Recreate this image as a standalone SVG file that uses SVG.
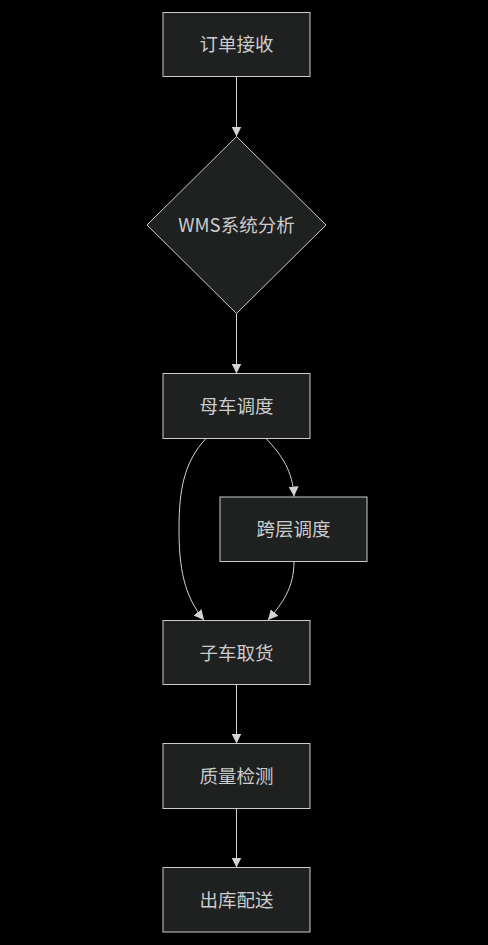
<svg xmlns="http://www.w3.org/2000/svg" width="488" height="945" viewBox="0 0 488 945">
<defs>
<marker id="arrow" viewBox="0 0 10 10" refX="10" refY="5" markerWidth="10" markerHeight="10" markerUnits="userSpaceOnUse" orient="auto">
<path d="M0,0 L10,5 L0,10 z" fill="#d3d3d3"/>
</marker>
</defs>
<style>
.node rect, .node polygon { fill: #1f2020; stroke: #cccccc; stroke-width: 1; }
.node text { fill: #cccccc; font-family: "Noto Sans CJK SC", "Liberation Sans", sans-serif; font-size: 18.5px; text-anchor: middle; dominant-baseline: central; }
.edges path { fill: none; stroke: #d3d3d3; stroke-width: 1; marker-end: url(#arrow); }
</style>
<rect width="488" height="945" fill="#000000"/>
<g class="edges">
<path d="M236.5,76.5 L236.5,136.5"/>
<path d="M236.5,313.5 L236.5,373.5"/>
<path d="M206,438.5 C184,462 179,490 179,529 C179,568 184,596 204,620"/>
<path d="M266,438.5 C282,455 293,472 294,496.5"/>
<path d="M294,561.5 C294,588 282,604 268,620"/>
<path d="M236.5,684.5 L236.5,743.5"/>
<path d="M236.5,808.5 L236.5,867.5"/>
</g>
<g id="n1" class="node"><rect x="163" y="12.5" width="147" height="64"/><text x="236.5" y="43">订单接收</text></g>
<g id="n2" class="node"><polygon points="236.5,136.5 326,225 236.5,313.5 147,225"/><text x="236.5" y="224">WMS系统分析</text></g>
<g id="n3" class="node"><rect x="163" y="373.5" width="147" height="65"/><text x="236.5" y="405">母车调度</text></g>
<g id="n4" class="node"><rect x="220" y="497" width="147" height="64.5"/><text x="293.5" y="528">跨层调度</text></g>
<g id="n5" class="node"><rect x="163" y="620.5" width="147" height="64"/><text x="236.5" y="651.5">子车取货</text></g>
<g id="n6" class="node"><rect x="163" y="743.5" width="147" height="65"/><text x="236.5" y="775">质量检测</text></g>
<g id="n7" class="node"><rect x="163" y="867.5" width="147" height="64.5"/><text x="236.5" y="898.5">出库配送</text></g>
</svg>
